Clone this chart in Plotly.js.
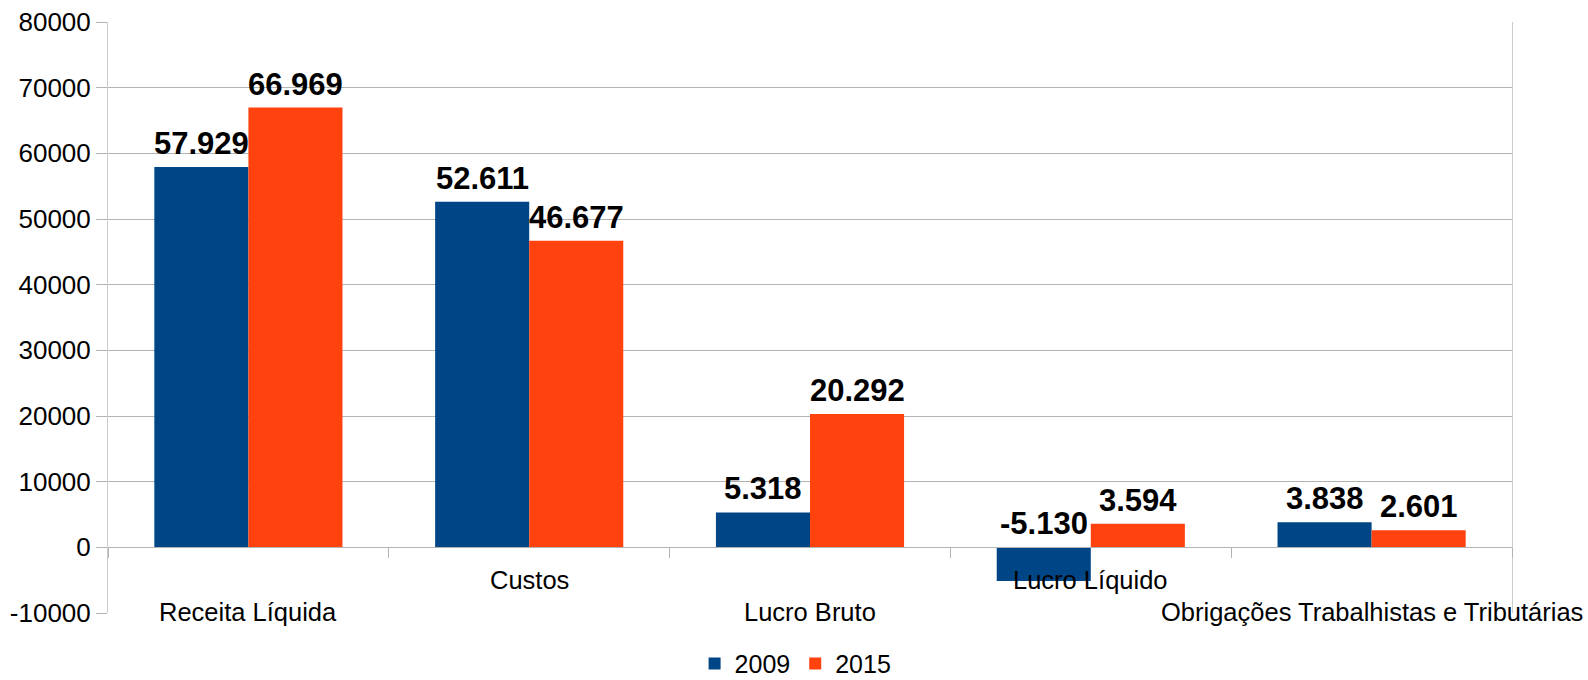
<!DOCTYPE html>
<html>
<head>
<meta charset="utf-8">
<script src="https://cdn.plot.ly/plotly-3.0.1.min.js"></script>
<style>html,body{margin:0;padding:0;background:#fff;}#chart{width:1588px;height:680px;}</style>
</head>
<body>
<div id="chart"></div>
<script>
const categories = ["Receita Líquida", "Custos", "Lucro Bruto", "Lucro Líquido", "Obrigações Trabalhistas e Tributárias"];
const series2009 = [57929, 52611, 5318, -5130, 3838];
const series2015 = [66969, 46677, 20292, 3594, 2601];
const seriesNames = ["2009", "2015"];
const yTicks = [-10000, 0, 10000, 20000, 30000, 40000, 50000, 60000, 70000, 80000];

const FONT = "Liberation Sans, Arial, sans-serif";
const colors = ["#004586", "#ff420e"];
const xs = categories.map((c, i) => i);
const barGap = 0.33;
const barW = (1 - barGap) / 2;

function fmt(v) {
  const s = Math.abs(v).toString().replace(/\B(?=(\d{3})+(?!\d))/g, ".");
  return (v < 0 ? "-" : "") + s;
}

const traces = [series2009, series2015].map((vals, k) => ({
  type: "bar",
  name: seriesNames[k],
  x: xs,
  y: vals,
  marker: {color: colors[k], line: {width: 0}},
  hoverinfo: "none"
}));

const annotations = [];
[series2009, series2015].forEach((vals, k) => {
  const off = (k === 0 ? -1 : 1) * barW / 2;
  vals.forEach((v, i) => {
    annotations.push({
      x: i + off, y: Math.max(v, 0), xref: "x", yref: "y",
      text: fmt(v), showarrow: false, yanchor: "bottom", yshift: 4,
      font: {family: FONT, size: 31, color: "#000", weight: "bold"}
    });
  });
});
categories.forEach((c, i) => {
  annotations.push({
    x: i, y: 0, xref: "x", yref: "y",
    text: c, showarrow: false, yanchor: "middle",
    yshift: (i % 2 === 0) ? -65 : -33,
    font: {family: FONT, size: 25.5, color: "#000"}
  });
});

const layout = {
  width: 1588, height: 680,
  margin: {l: 108, r: 76, t: 22, b: 67},
  paper_bgcolor: "#fff", plot_bgcolor: "#fff",
  barmode: "group", bargap: barGap, bargroupgap: 0,
  font: {family: FONT, size: 25, color: "#000"},
  showlegend: true,
  legend: {orientation: "h", xref: "container", yref: "container", x: 0.501, xanchor: "center", y: 0.024, yanchor: "middle",
           font: {family: FONT, size: 25, color: "#000"}, itemwidth: 30, tracegroupgap: 0},
  xaxis: {
    range: [-0.5, 4.5], anchor: "free", position: 1/9,
    tickmode: "array", tickvals: [-0.5, 0.5, 1.5, 2.5, 3.5, 4.5], showticklabels: false,
    ticks: "outside", ticklen: 10, tickcolor: "#b3b3b3", tickwidth: 1,
    showline: true, linecolor: "#b3b3b3", linewidth: 1,
    showgrid: false, zeroline: false, fixedrange: true
  },
  yaxis: {
    range: [-10000, 80000], tickmode: "array", tickvals: yTicks, ticktext: yTicks.map(String),
    ticks: "outside", ticklen: 11, tickcolor: "#b3b3b3", tickwidth: 1,
    showline: true, linecolor: "#cccccc", linewidth: 1, mirror: true,
    showgrid: true, gridcolor: "#b3b3b3", gridwidth: 1, zeroline: false,
    tickfont: {family: FONT, size: 26, color: "#000"}, fixedrange: true
  },
  annotations: annotations
};

Plotly.newPlot("chart", traces, layout, {staticPlot: true, displayModeBar: false});
</script>
</body>
</html>
